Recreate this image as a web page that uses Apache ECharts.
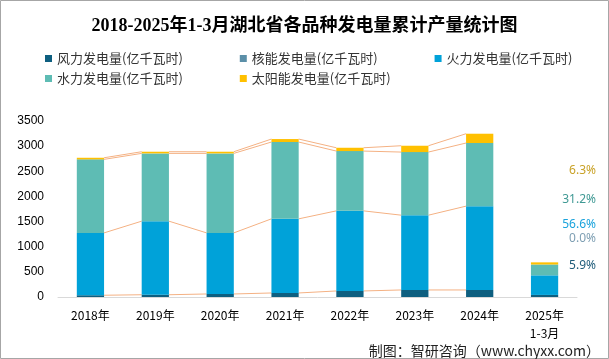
<!DOCTYPE html>
<html><head><meta charset="utf-8">
<script src="https://cdn.jsdelivr.net/npm/echarts@6/dist/echarts.min.js"></script>
<style>html,body{margin:0;padding:0;background:#fff}#c{width:609px;height:359px}</style>
</head><body><div id="c"></div>
<script>
var categories = ['2018年','2019年','2020年','2021年','2022年','2023年','2024年','2025年\n1-3月'];
var seriesNames = ['风力发电量(亿千瓦时)','核能发电量(亿千瓦时)','火力发电量(亿千瓦时)','水力发电量(亿千瓦时)','太阳能发电量(亿千瓦时)'];
var wind    = [35, 45, 60, 80, 120, 140, 140, 41];
var nuclear = [0, 0, 0, 0, 0, 0, 0, 0];
var thermal = [1240, 1463, 1215, 1474, 1593, 1487, 1667, 390];
var hydro   = [1462, 1348, 1581, 1528, 1189, 1255, 1255, 215];
var solar   = [32, 33, 33, 59, 66, 126, 185, 43];
var shares  = ['6.3%','31.2%','56.6%','0.0%','5.9%'];
var yTicks  = {min:0, max:3500, interval:500};

var colors = ['#0E5F80','#5B8FA8','#00A2D9','#5EBCB4','#FFC000'];
var shareColors = ['#C9A227','#3F9994','#1AA3DC','#7E9FB3','#1F5C7A'];
var allData = [wind, nuclear, thermal, hydro, solar];
var gapRatio = 0.58;

var chart = echarts.init(document.getElementById('c'));
var bars = allData.map(function(d, k){
  return {name: seriesNames[k], type:'bar', stack:'s', data:d, barCategoryGap:'58%',
    itemStyle:{color:colors[k]}, z:3};
});
function cumAt(i){
  var c=[], s=0;
  for (var k=0;k<allData.length;k++){ s+=allData[k][i]; c.push(s); }
  return c;
}
var linkIdx = [];
for (var i=0;i<categories.length-2;i++) linkIdx.push([i]);
var links = {
  type:'custom', name:'links', data:linkIdx, encode:{x:0}, z:2, silent:true,
  renderItem:function(params, api){
    var i = api.value(0);
    var band = api.size([1,0])[0];
    var hw = band*(1-gapRatio)/2;
    var a = cumAt(i), b = cumAt(i+1);
    var kids = [];
    [0,2,3,4].forEach(function(k){
      var p1 = api.coord([i, a[k]]), p2 = api.coord([i+1, b[k]]);
      kids.push({type:'line', shape:{x1:p1[0]+hw, y1:p1[1], x2:p2[0]-hw, y2:p2[1]},
        style:{stroke:'#F4B183', lineWidth:1}});
    });
    return {type:'group', children:kids};
  }
};
var shareY = [172, 201, 226, 240, 267];
var graphics = [{type:'rect', shape:{x:0.5,y:0.5,width:608,height:358}, style:{fill:null, stroke:'#A6A6A6', lineWidth:1}, silent:true}];
shares.forEach(function(t, k){
  graphics.push({type:'text', right:13, top:shareY[k]-7, style:{text:t, fill:shareColors[k], font:'12px "Noto Sans", sans-serif'}});
});
graphics.push({type:'text', right:9, top:344, style:{text:'制图：智研咨询（www.chyxx.com）', fill:'#222', font:'14px "Noto Sans CJK SC", sans-serif'}});

var legendText = {color:'#333', fontSize:13, fontFamily:'"Noto Sans CJK SC", sans-serif'};
chart.setOption({
  animation:false,
  title:{text:'2018-2025年1-3月湖北省各品种发电量累计产量统计图', left:'center', top:12,
    textStyle:{fontSize:18, fontWeight:'bold', color:'#000', fontFamily:'"Liberation Serif","Noto Sans CJK SC",serif'}},
  legend:[
    {data:seriesNames.slice(0,3), left:40, top:47, icon:'rect', itemWidth:7, itemHeight:7, itemGap:57, textStyle:legendText, selectedMode:false},
    {data:seriesNames.slice(3), left:40, top:67, icon:'rect', itemWidth:7, itemHeight:7, itemGap:57, textStyle:legendText, selectedMode:false}
  ],
  grid:{left:58, right:32, top:121, bottom:62},
  xAxis:{type:'category', data:categories, axisTick:{show:false},
    axisLine:{lineStyle:{color:'#D9D9D9'}},
    axisLabel:{color:'#000', fontSize:12, lineHeight:18, margin:9, fontFamily:'"Noto Sans CJK SC", sans-serif'}},
  yAxis:{type:'value', min:yTicks.min, max:yTicks.max, interval:yTicks.interval,
    splitLine:{show:false}, axisLine:{show:false}, axisTick:{show:false},
    axisLabel:{color:'#000', fontSize:12, margin:14, fontFamily:'"Liberation Sans", sans-serif',
      formatter:function(v){return String(v);}}},
  series: bars.concat([links]),
  graphic: graphics
});
</script></body></html>
